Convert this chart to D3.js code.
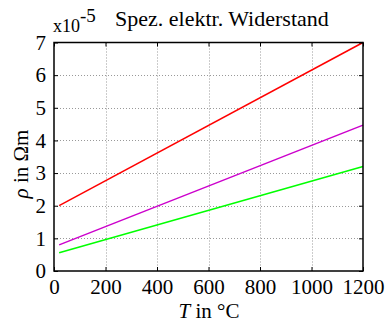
<!DOCTYPE html>
<html><head><meta charset="utf-8">
<script src="https://cdn.jsdelivr.net/npm/d3@7"></script>
<style>body{margin:0;background:#fff}svg{display:block}</style>
</head><body><svg id="c" width="386" height="324"></svg>
<script>
const temps = [20, 1200];
const rhoRed = [2.0, 7.0];
const rhoMagenta = [0.8, 4.47];
const rhoGreen = [0.56, 3.2];
const xTicks = [0, 200, 400, 600, 800, 1000, 1200];
const yTicks = [0, 1, 2, 3, 4, 5, 6, 7];
const series = [
  {name: "red", values: rhoRed, color: "#ff0000"},
  {name: "magenta", values: rhoMagenta, color: "#cc00cc"},
  {name: "green", values: rhoGreen, color: "#00ff00"}
];
const FONT = "Liberation Serif";
const svg = d3.select("#c");
const L = 54, R = 363, T = 42.5, B = 271;
const x = d3.scaleLinear().domain([0, 1200]).range([L, R]);
const y = d3.scaleLinear().domain([0, 7]).range([B, T]);
const g = svg.append("g");
// grid
g.selectAll(".gx").data(xTicks.slice(1, -1)).enter().append("line")
  .attr("x1", d => Math.round(x(d)) + 0.5).attr("x2", d => Math.round(x(d)) + 0.5)
  .attr("y1", T).attr("y2", B).attr("stroke", "#999").attr("stroke-width", 1).attr("stroke-dasharray", "1,2");
g.selectAll(".gy").data(yTicks.slice(1, -1)).enter().append("line")
  .attr("y1", d => Math.round(y(d)) + 0.5).attr("y2", d => Math.round(y(d)) + 0.5)
  .attr("x1", L).attr("x2", R).attr("stroke", "#999").attr("stroke-width", 1).attr("stroke-dasharray", "1,2");
// lines
const line = d3.line().x((d, i) => x(temps[i])).y(d => y(d));
series.forEach(s => {
  g.append("path").datum(s.values).attr("d", line).attr("fill", "none")
    .attr("stroke", s.color).attr("stroke-width", 1.5);
});
// axes with inward ticks
const ax = d3.axisBottom(x).tickValues(xTicks).tickSize(-4).tickPadding(8).tickFormat(d3.format("d"));
const axT = d3.axisTop(x).tickValues(xTicks).tickSize(-4).tickFormat("");
const ay = d3.axisLeft(y).tickValues(yTicks).tickSize(-4).tickPadding(8).tickFormat(d3.format("d"));
const ayR = d3.axisRight(y).tickValues(yTicks).tickSize(-4).tickFormat("");
function style(sel) {
  sel.attr("font-family", FONT);
  sel.select(".domain").remove();
  sel.selectAll(".tick line").attr("stroke", "#000");
  sel.selectAll("text").attr("font-size", 21).attr("fill", "#000").style("font-family", FONT);
}
svg.append("g").attr("transform", `translate(0,${B})`).call(ax).call(style);
svg.append("g").attr("transform", `translate(0,${T})`).call(axT).call(style);
svg.append("g").attr("transform", `translate(${L},0)`).call(ay).call(style);
svg.append("g").attr("transform", `translate(${R},0)`).call(ayR).call(style);
svg.append("rect").attr("x", L).attr("y", T).attr("width", R - L).attr("height", B - T)
  .attr("fill", "none").attr("stroke", "#000").attr("stroke-width", 1.5);
// title and exponent
svg.append("text").attr("x", 115).attr("y", 26).attr("font-size", 22).style("font-family", FONT).text("Spez. elektr. Widerstand");
const ex = svg.append("text").attr("x", 53).attr("y", 32).attr("font-size", 18).style("font-family", FONT);
ex.append("tspan").text("x10");
ex.append("tspan").attr("dy", -10).attr("font-size", 19).text("-5");
// axis labels
const xl = svg.append("text").attr("x", 209).attr("y", 318).attr("text-anchor", "middle").attr("font-size", 21).style("font-family", FONT);
xl.append("tspan").attr("font-style", "italic").text("T");
xl.append("tspan").text(" in °C");
const yl = svg.append("text").attr("transform", "translate(28,164) rotate(-90)").attr("text-anchor", "middle").attr("font-size", 21).style("font-family", FONT);
yl.append("tspan").attr("font-style", "italic").text("ρ");
yl.append("tspan").text(" in Ωm");
</script></body></html>
